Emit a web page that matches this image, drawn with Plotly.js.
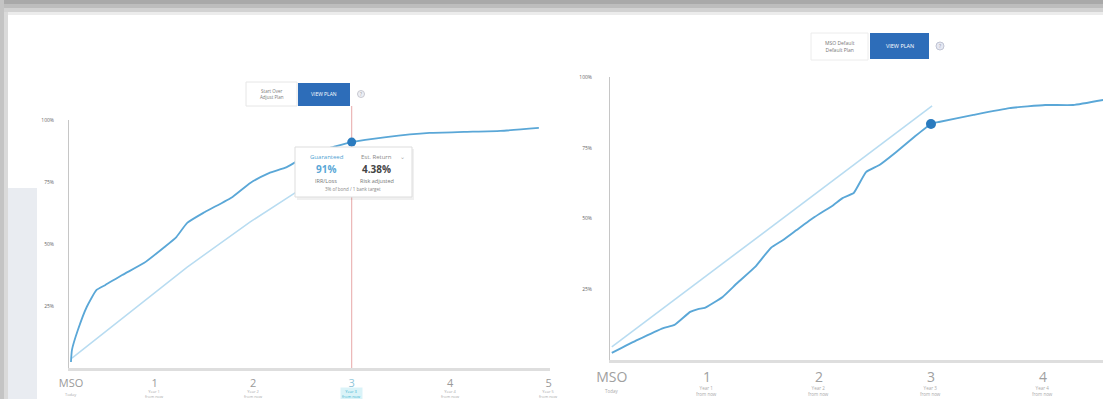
<!DOCTYPE html>
<html><head><meta charset="utf-8">
<script src="https://cdn.plot.ly/plotly-3.0.1.min.js"></script>
<style>html,body{margin:0;padding:0;background:#fff;overflow:hidden}#chart{width:1103px;height:399px}</style>
</head><body><div id="chart"></div>
<script>
// ---- data ----
const tickPositions = [0.15, 1, 2, 3, 4, 5];
const tickLabels = ['MSO', '1', '2', '3', '4', '5'];
const tickSubLine1 = ['Today', 'Year 1', 'Year 2', 'Year 3', 'Year 4', 'Year 5'];
const tickSubLine2 = ['', 'from now', 'from now', 'from now', 'from now', 'from now'];
const yTickValues = [25, 50, 75, 100];
const yTickLabels = ['25%', '50%', '75%', '100%'];
const selectedYear = 3;

const leftObsX = [0.15, 0.16, 0.22, 0.31, 0.41, 0.50, 0.67, 0.89, 1.10, 1.22, 1.33, 1.51, 1.79, 1.97, 2.16, 2.34, 2.59, 2.81, 3.0, 3.35, 3.79, 4.14, 4.51, 4.90];
const leftObsY = [2.4, 7.3, 15.3, 24.6, 31.5, 33.5, 37.5, 42.3, 48.8, 52.8, 58.5, 62.9, 69.0, 74.6, 78.6, 81.0, 86.7, 89.1, 91.1, 93.1, 94.8, 95.2, 95.6, 96.8];
const leftGuideX = [0.16, 1.33, 1.97, 2.44, 3.0];
const leftGuideY = [4.0, 40.7, 58.9, 71.0, 86.0];

const rightObsX = [0.15, 0.38, 0.61, 0.71, 0.85, 0.92, 0.98, 1.14, 1.27, 1.43, 1.57, 1.68, 1.80, 1.96, 2.13, 2.21, 2.31, 2.42, 2.54, 2.69, 2.85, 3.0, 3.07, 3.38, 3.70, 4.02, 4.27, 4.54];
const rightObsY = [2.5, 7.1, 11.3, 12.4, 17.0, 18.0, 18.4, 22.3, 27.2, 32.9, 39.6, 42.4, 45.9, 50.5, 54.8, 57.2, 59.0, 66.4, 68.9, 73.5, 78.8, 83.4, 84.1, 86.6, 89.0, 90.1, 90.1, 91.9];
const rightGuideX = [0.15, 3.01];
const rightGuideY = [4.6, 89.8];

const tipLabels = ['Guaranteed', 'Est. Return'];
const tipValues = ['91%', '4.38%'];
const tipNotes = ['IRR/Loss', 'Risk adjusted'];
const tipFoot = '3% of bond / 1 bank target';

// ---- helpers ----
const W = 1103, H = 399;
const px = v => v / W;
const py = v => 1 - v / H;
const DARK = '#5aa7d7', LIGHT = '#b8dcf1', MARK = '#2a7bbf', BTN = '#2d6db9';
const FONT = 'Open Sans, Arial, sans-serif';

const iSel = leftObsX.indexOf(selectedYear);
const jSel = rightObsX.indexOf(selectedYear);

const traces = [
  {x: leftGuideX, y: leftGuideY, xaxis: 'x', yaxis: 'y', mode: 'lines', line: {color: LIGHT, width: 1.5}, hoverinfo: 'skip'},
  {x: leftObsX, y: leftObsY, xaxis: 'x', yaxis: 'y', mode: 'lines', line: {color: DARK, width: 1.8, shape: 'spline', smoothing: 0.5}, hoverinfo: 'skip'},
  {x: [leftObsX[iSel]], y: [leftObsY[iSel]], xaxis: 'x', yaxis: 'y', mode: 'markers', marker: {color: MARK, size: 9}, hoverinfo: 'skip'},
  {x: rightGuideX, y: rightGuideY, xaxis: 'x2', yaxis: 'y2', mode: 'lines', line: {color: LIGHT, width: 1.6}, hoverinfo: 'skip'},
  {x: rightObsX, y: rightObsY, xaxis: 'x2', yaxis: 'y2', mode: 'lines', line: {color: DARK, width: 1.9, shape: 'spline', smoothing: 0.4}, hoverinfo: 'skip'},
  {x: [rightObsX[jSel]], y: [rightObsY[jSel]], xaxis: 'x2', yaxis: 'y2', mode: 'markers', marker: {color: MARK, size: 10}, hoverinfo: 'skip'}
];

function xTickText(highlight) {
  return tickLabels.map((t, k) => (highlight && tickPositions[k] === selectedYear) ? `<span style="color:#8fc6da">${t}</span>` : t);
}

const baseX = {showgrid: false, zeroline: false, showline: true, linecolor: '#dedede', linewidth: 3,
  ticks: 'outside', tickcolor: 'rgba(0,0,0,0)', tickvals: tickPositions, fixedrange: true};
const baseY = {showgrid: false, zeroline: false, showline: true, linecolor: '#c6c6c6', linewidth: 1,
  ticks: 'outside', tickcolor: 'rgba(0,0,0,0)', tickvals: yTickValues, ticktext: yTickLabels,
  range: [0, 100], fixedrange: true, tickfont: {size: 5, color: '#666'}};

function note(xref, x, y, text, size, color, extra) {
  return Object.assign({xref: xref, yref: 'paper', x: x, y: y, text: text, showarrow: false,
    xanchor: 'center', yanchor: 'middle', font: {size: size, color: color, family: FONT}}, extra || {});
}

const annotations = [];
// tick sub-captions
tickPositions.forEach((t, k) => {
  const hl = t === selectedYear;
  const txt = tickSubLine1[k] + (tickSubLine2[k] ? '<br>' + tickSubLine2[k] : '');
  annotations.push(note('x', t, py(394), txt, 4, hl ? '#3fb6d2' : '#aaa',
    {bgcolor: hl ? 'rgba(150,220,235,0.35)' : 'rgba(0,0,0,0)'}));
  if (t <= 4.5) annotations.push(note('x2', t, py(390.5), txt, 4.5, '#aaa'));
});
// tooltip texts
annotations.push(
  note('paper', px(327), py(157), tipLabels[0], 6, '#4f9fd2'),
  note('paper', px(376), py(157), tipLabels[1], 6, '#888'),
  note('paper', px(402), py(157), '⌄', 6, '#aaa'),
  note('paper', px(326), py(169), '<b>' + tipValues[0] + '</b>', 10, '#5aa7d7'),
  note('paper', px(376), py(169), '<b>' + tipValues[1] + '</b>', 10, '#444'),
  note('paper', px(326), py(181), tipNotes[0], 5.5, '#777'),
  note('paper', px(377), py(181), tipNotes[1], 5.5, '#777'),
  note('paper', px(353), py(189), tipFoot, 4.5, '#888'),
  // left buttons
  note('paper', px(271.5), py(94), 'Start Over<br>Adjust Plan', 4.5, '#777'),
  note('paper', px(324), py(94.5), 'VIEW PLAN', 5, '#fff'),
  note('paper', px(361), py(94), '?', 4.5, '#999'),
  // right buttons
  note('paper', px(839.5), py(46.5), 'MSO Default<br>Default Plan', 5, '#777'),
  note('paper', px(899.5), py(46), 'VIEW PLAN', 5.5, '#fff'),
  note('paper', px(940), py(46), '?', 5, '#99a')
);

function rect(x0, y0, x1, y1, fill, line, layer) {
  return {type: 'rect', xref: 'paper', yref: 'paper', x0: px(x0), x1: px(x1), y0: py(y1), y1: py(y0),
    fillcolor: fill, line: {color: line || 'rgba(0,0,0,0)', width: line ? 1 : 0}, layer: layer || 'below'};
}
const shapes = [
  // photo frame
  rect(0, 0, 1103, 4, '#a9a9a9'), rect(0, 4, 1103, 8, '#bdbdbd'), rect(0, 8, 1103, 12, '#d2d2d2'), rect(0, 12, 1103, 15, '#ececec'),
  rect(0, 0, 4, 399, '#c4c4c4'), rect(4, 12, 8, 399, '#dadada'),
  rect(8, 188, 37, 399, '#e9ecf1'),
  // selection line
  {type: 'line', xref: 'x', yref: 'paper', x0: selectedYear, x1: selectedYear, y0: py(368), y1: py(106), line: {color: '#e7a7a7', width: 1}, layer: 'below'},
  // buttons left
  rect(246, 82, 297, 106, '#ffffff', '#e6e6e6', 'above'),
  rect(298, 83, 350, 106, BTN, null, 'above'),
  {type: 'circle', xref: 'paper', yref: 'paper', x0: px(357.5), x1: px(364.5), y0: py(97.5), y1: py(90.5), fillcolor: '#eef0f5', line: {color: '#c8c8d0', width: 1}, layer: 'above'},
  // buttons right
  rect(811, 33, 868, 60, '#ffffff', '#ececec', 'above'),
  rect(870, 33, 929, 59, BTN, null, 'above'),
  {type: 'circle', xref: 'paper', yref: 'paper', x0: px(936), x1: px(944), y0: py(50), y1: py(42), fillcolor: '#e6e8f2', line: {color: '#c0c4d4', width: 1}, layer: 'above'},
  // tooltip
  rect(297, 149, 414, 200, 'rgba(0,0,0,0.06)', null, 'above'),
  rect(295, 147, 412, 197, '#ffffff', '#dddddd', 'above')
];

const layout = {
  width: W, height: H, margin: {l: 0, r: 0, t: 0, b: 0},
  paper_bgcolor: '#ffffff', plot_bgcolor: 'rgba(0,0,0,0)', showlegend: false,
  font: {family: FONT},
  xaxis: Object.assign({}, baseX, {domain: [px(69), px(550)], range: [0.13, 5.013], anchor: 'y',
    ticktext: xTickText(true), ticklen: 3, tickfont: {size: 11, color: '#9a9a9a'}}),
  yaxis: Object.assign({}, baseY, {domain: [py(368), py(120)], anchor: 'x', ticklen: 13}),
  xaxis2: Object.assign({}, baseX, {domain: [px(610), 1], range: [0.134, 4.536], anchor: 'y2',
    ticktext: xTickText(false), ticklen: 2, tickfont: {size: 14, color: '#a0a0a0'}}),
  yaxis2: Object.assign({}, baseY, {domain: [py(360), py(77)], anchor: 'x2', ticklen: 16}),
  shapes: shapes,
  annotations: annotations
};

Plotly.newPlot('chart', traces, layout, {displayModeBar: false, staticPlot: true});
</script></body></html>
